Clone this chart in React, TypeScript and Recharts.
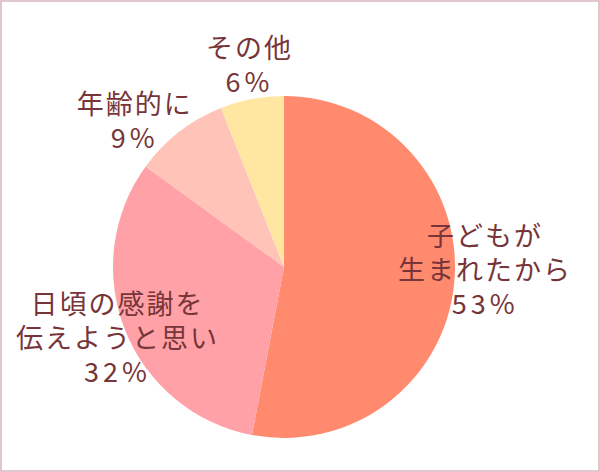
import { PieChart, Pie, Cell } from 'recharts';

const categories = ['子どもが\n生まれたから', '日頃の感謝を\n伝えようと思い', '年齢的に', 'その他'];
const values = [53, 32, 9, 6];
const colors = ['#ff8a6e', '#ffa1a7', '#ffc3b7', '#ffe7a1'];

// label nudges from the default spot outside each slice
const labelOffsets = [
  [-5, -18],
  [24, -6],
  [-24, 15],
  [3, -1],
];

const RADIAN = Math.PI / 180;

const data = categories.map((name, i) => ({ name, value: values[i] }));

function renderLabel(props: any) {
  const { cx, cy, midAngle, outerRadius, index, name, value } = props;
  const r = outerRadius + 35;
  const [dx, dy] = labelOffsets[index];
  const x = cx + r * Math.cos(-midAngle * RADIAN) + dx;
  const y = cy + r * Math.sin(-midAngle * RADIAN) + dy;
  const lines = [...String(name).split('\n'), `${value}%`];
  const lh = 34;
  const top = y - ((lines.length - 1) * lh) / 2;
  return (
    <g>
      {lines.map((l, i) => (
        <text
          key={i}
          x={x + 1}
          y={top + i * lh}
          fill="#773539"
          fontSize={27}
          letterSpacing={i === lines.length - 1 ? 4 : 2}
          textAnchor="middle"
          dominantBaseline="central"
          fontFamily="'Noto Sans CJK JP', sans-serif"
        >
          {l}
        </text>
      ))}
    </g>
  );
}

export default function App() {
  return (
    <div style={{ position: 'absolute', left: 0, top: 0, width: 600, height: 472, background: '#fff' }}>
      <PieChart width={600} height={472} margin={{ top: 0, right: 0, bottom: 0, left: 0 }}>
        <Pie
          data={data}
          dataKey="value"
          nameKey="name"
          cx={284}
          cy={267}
          outerRadius={171}
          startAngle={90}
          endAngle={-270}
          stroke="none"
          label={renderLabel}
          labelLine={false}
          isAnimationActive={false}
        >
          {data.map((d, i) => (
            <Cell key={d.name} fill={colors[i]} />
          ))}
        </Pie>
      </PieChart>
      <div
        style={{
          position: 'absolute', left: 0, top: 0, width: 600, height: 472,
          boxSizing: 'border-box', border: '2px solid #e2c6ce', pointerEvents: 'none',
        }}
      />
    </div>
  );
}
